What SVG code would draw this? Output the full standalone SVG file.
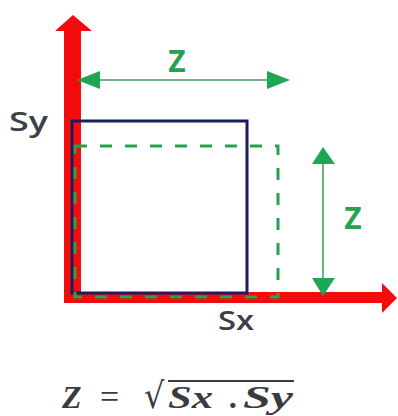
<svg xmlns="http://www.w3.org/2000/svg" width="398" height="416" viewBox="0 0 398 416">
<style>
.axis{fill:#f40b0b}
.dash{fill:none;stroke:#26a24e;stroke-width:3;stroke-dasharray:12 13}
.dim{stroke:#6db386;stroke-width:2;fill:none}
.head{fill:#1fa655}
.lbl{font-family:"Open Sans","Liberation Sans",sans-serif;font-size:30px;font-weight:bold;fill:#26a24e}
.ax{font-family:"Open Sans","Liberation Sans",sans-serif;font-size:27px;font-weight:600;fill:#3d4049}
.math{font-family:"Liberation Serif","DejaVu Serif",serif;font-style:italic;font-weight:bold;font-size:32px;fill:#3a3b40}
</style>
<rect width="398" height="416" fill="#ffffff"/>
<g id="axes">
  <rect class="axis" x="64" y="28" width="17" height="275"/>
  <polygon class="axis" points="73,15 55,31 92,31"/>
  <rect class="axis" x="64" y="292" width="321" height="11"/>
  <polygon class="axis" points="397,298 382,283 382,313"/>
</g>
<g id="rect-s">
  <rect x="72" y="121" width="175" height="172" fill="none" stroke="#1b1e5c" stroke-width="3"/>
</g>
<g id="rect-z">
  <path class="dash" d="M75,146 H278 V297 H75 Z"/>
</g>
<g id="connectors">
  <line class="dim" x1="95" y1="80" x2="272" y2="80"/>
  <polygon class="head" points="77,80 100,71 100,89"/>
  <polygon class="head" points="290,80 267,71 267,89"/>
  <line class="dim" x1="323" y1="160" x2="323" y2="282"/>
  <polygon class="head" points="323,147 312,164 335,164"/>
  <polygon class="head" points="323,296 312,278 335,278"/>
</g>
<g id="labels">
  <text class="lbl" x="177" y="72" text-anchor="middle">Z</text>
  <text class="lbl" x="353" y="229" text-anchor="middle">Z</text>
  <text class="ax" x="9" y="131" textLength="39" lengthAdjust="spacingAndGlyphs">Sy</text>
  <text class="ax" x="218" y="330" textLength="36" lengthAdjust="spacingAndGlyphs">Sx</text>
</g>
<g id="formula">
  <text class="math" x="62" y="408">Z</text>
  <text x="100" y="408" font-family="'Liberation Serif',serif" font-size="34" fill="#3a3b40">=</text>
  <text transform="translate(144,408) scale(1,1.12)" font-family="'DejaVu Serif',serif" font-size="32" fill="#3a3b40">√</text>
  <line x1="168" y1="381" x2="294" y2="381" stroke="#3a3b40" stroke-width="2"/>
  <text class="math" x="168" y="408" textLength="45" lengthAdjust="spacingAndGlyphs">Sx</text>
  <text class="math" x="230" y="408">.</text>
  <text class="math" x="243" y="408" textLength="50" lengthAdjust="spacingAndGlyphs">Sy</text>
</g>
</svg>
